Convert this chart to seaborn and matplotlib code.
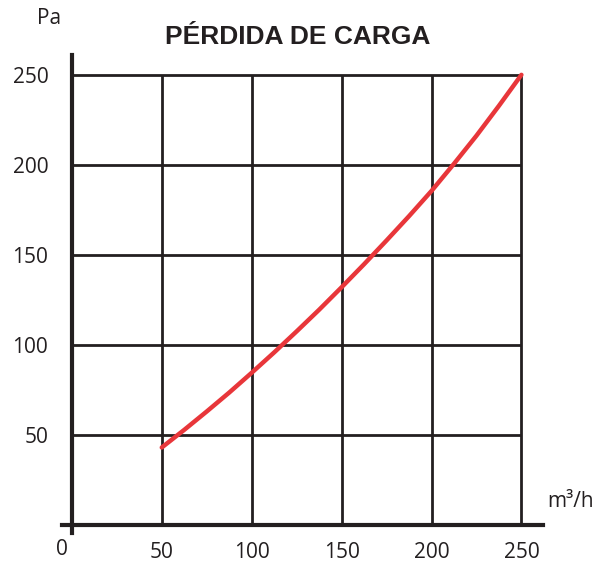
import matplotlib
matplotlib.use("Agg")
import matplotlib.pyplot as plt
import seaborn as sns
import pandas as pd

# caudal (m3/h) vs pérdida de carga (Pa)
flow = [50, 62.5, 75, 87.5, 100, 112.5, 125, 137.5, 150,
        162.5, 175, 187.5, 200, 212.5, 225, 237.5, 250]
pressure = [43, 52.8, 63, 73.5, 84.5, 95.8, 107.5, 119.5, 132,
            144.8, 158, 171.5, 185.5, 200.6, 216.2, 232.8, 250]
x_ticks = [50, 100, 150, 200, 250]
y_ticks = [50, 100, 150, 200, 250]

ink = "#231f20"
red = "#e8363a"

sns.set_style("white")
plt.rcParams["font.family"] = ["Open Sans", "DejaVu Sans"]

fig = plt.figure(figsize=(6.13, 5.66), dpi=100)
ax = fig.add_axes([0.1011, 0.0583, 0.7847, 0.8445])

# grid box only over 0..250
ax.hlines(y_ticks, 0, 250, color=ink, lw=2, zorder=1)
ax.vlines(x_ticks, 0, 250, color=ink, lw=2, zorder=1)

df = pd.DataFrame({"flow": flow, "pressure": pressure})
sns.lineplot(data=df, x="flow", y="pressure", color=red, lw=3.2, ax=ax, zorder=3)

ax.set_xlim(-5.5, 262)
ax.set_ylim(-4.5, 261)
for side in ["top", "right"]:
    ax.spines[side].set_visible(False)
for side in ["left", "bottom"]:
    ax.spines[side].set_position(("data", 0))
    ax.spines[side].set_color(ink)
    ax.spines[side].set_linewidth(3)

ax.set_xticks(x_ticks)
ax.set_yticks(y_ticks)
ax.tick_params(axis="both", direction="out", color=ink, width=2.5,
               labelsize=15, labelcolor=ink)
ax.tick_params(axis="y", length=7, pad=10)
ax.tick_params(axis="x", length=6, pad=6)
ax.set_xlabel("")
ax.set_ylabel("")

fig.text(0.101, 0.030, "0", ha="center", va="center", fontsize=15, color=ink)
fig.text(0.060, 0.968, "Pa", ha="left", va="center", fontsize=15, color=ink)
fig.text(0.892, 0.114, "m³/h", ha="left", va="center", fontsize=15, color=ink)
fig.text(0.485, 0.935, "PÉRDIDA DE CARGA", ha="center", va="center",
         fontsize=19, fontweight="bold", color=ink,
         family=["Liberation Sans", "DejaVu Sans"])

fig.savefig("out.png", dpi=100)
